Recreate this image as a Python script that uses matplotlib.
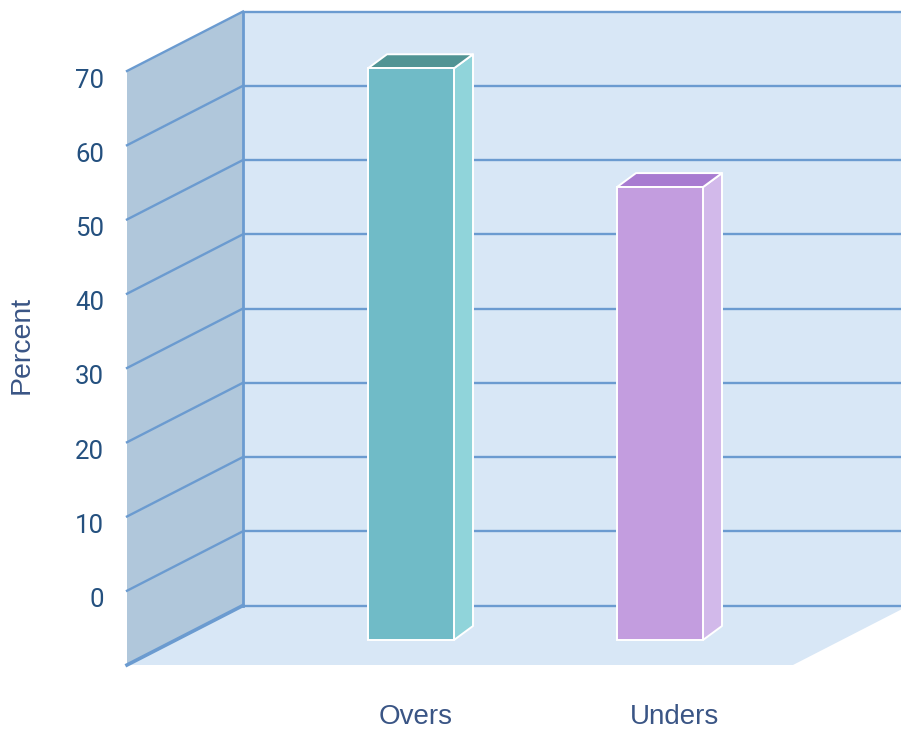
"""3D-look bar chart of overs and unders, drawn with a sheared back wall on a flat axes."""

import matplotlib
matplotlib.use("Agg")
import matplotlib.pyplot as plt
from matplotlib.patches import Polygon

categories = ["Overs", "Unders"]
percent_values = [67, 51]
tick_values = [0, 10, 20, 30, 40, 50, 60, 70]
grid_values = [-10, 0, 10, 20, 30, 40, 50, 60, 70]

# one category step is 249 px, one percent is 7.425 px
CAT_PX = 249.0
VAL_PX = 7.425
WALL_DX, WALL_DY = 116 / CAT_PX, 59.5 / VAL_PX
BAR_DX, BAR_DY = 19 / CAT_PX, 14 / VAL_PX
BAR_WIDTH = 86 / CAT_PX
FLOOR = -10
TOP = 70
BAR_LIFT = 25 / VAL_PX

WALL_LEFT = (127 - 411) / CAT_PX
WALL_RIGHT = (793 - 411) / CAT_PX

BACK = "#D8E7F6"
SIDE_WALL = "#B0C7DB"
LINE = "#6B9BD0"
TICK_TEXT = "#24507F"
CAT_TEXT = "#3A5585"
FACES = [("#70BBC7", "#90D4DA", "#519494"), ("#C39DDF", "#D2B9EA", "#A87BD1")]

fig = plt.figure(figsize=(9.01, 7.30), dpi=100)
ax = fig.add_axes([0, 0, 1, 1])
ax.set_xlim(-411 / CAT_PX, 490 / CAT_PX)
ax.set_ylim(FLOOR - 65 / VAL_PX, TOP + 71 / VAL_PX)
ax.axis("off")

# walls and floor
back_x0, back_x1 = WALL_LEFT + WALL_DX, WALL_RIGHT + WALL_DX
ax.add_patch(Polygon(
    [(back_x0, FLOOR + WALL_DY), (back_x1, FLOOR + WALL_DY), (back_x1, TOP + WALL_DY), (back_x0, TOP + WALL_DY)],
    facecolor=BACK, edgecolor="none", zorder=1))
ax.add_patch(Polygon(
    [(WALL_LEFT, FLOOR), (WALL_RIGHT, FLOOR), (back_x1, FLOOR + WALL_DY), (back_x0, FLOOR + WALL_DY)],
    facecolor=BACK, edgecolor="none", zorder=1))
ax.add_patch(Polygon(
    [(WALL_LEFT, FLOOR), (back_x0, FLOOR + WALL_DY), (back_x0, TOP + WALL_DY), (WALL_LEFT, TOP)],
    facecolor=SIDE_WALL, edgecolor="none", zorder=1))

for v in grid_values:
    ax.plot([back_x0, back_x1], [v + WALL_DY, v + WALL_DY], color=LINE, lw=1.7, zorder=2, solid_capstyle="butt")
    ax.plot([WALL_LEFT, back_x0], [v, v + WALL_DY], color=LINE, lw=2.6 if v == FLOOR else 1.7, zorder=2)
ax.plot([back_x0, back_x0], [FLOOR + WALL_DY, TOP + WALL_DY], color=LINE, lw=2.0, zorder=2)

# bars
bottom = FLOOR + BAR_LIFT
for i, (value, (front, side, top)) in enumerate(zip(percent_values, FACES)):
    x0, x1 = i - BAR_WIDTH / 2, i + BAR_WIDTH / 2
    y1 = bottom + value + 10
    ax.add_patch(Polygon(
        [(x1, bottom), (x1 + BAR_DX, bottom + BAR_DY), (x1 + BAR_DX, y1 + BAR_DY), (x1, y1)],
        facecolor=side, edgecolor="white", lw=1.4, zorder=3, joinstyle="round"))
    ax.add_patch(Polygon(
        [(x0, y1), (x1, y1), (x1 + BAR_DX, y1 + BAR_DY), (x0 + BAR_DX, y1 + BAR_DY)],
        facecolor=top, edgecolor="white", lw=1.4, zorder=3, joinstyle="round"))
    ax.bar(i, value + 10, BAR_WIDTH, bottom=bottom, color=front, edgecolor="white", linewidth=1.4, zorder=4)

# text
for v in tick_values:
    ax.annotate(str(v), xy=((104 - 411) / CAT_PX, v), xytext=(0, -7), textcoords="offset pixels",
                ha="right", va="center_baseline", fontsize=18.5, color=TICK_TEXT, family="Roboto")
ax.text((22 - 411) / CAT_PX, FLOOR + (665 - 345) / VAL_PX, "Percent", rotation=90,
        ha="center", va="center", fontsize=20.5, color=CAT_TEXT, family="Liberation Sans")
cat_label_px = [415.5, 674]
for name, px in zip(categories, cat_label_px):
    ax.text((px - 411) / CAT_PX, FLOOR - (717 - 665) / VAL_PX, name,
            ha="center", va="center", fontsize=20, color=CAT_TEXT, family="Liberation Sans")

fig.savefig("out.png", dpi=100, facecolor="white")
plt.close(fig)
